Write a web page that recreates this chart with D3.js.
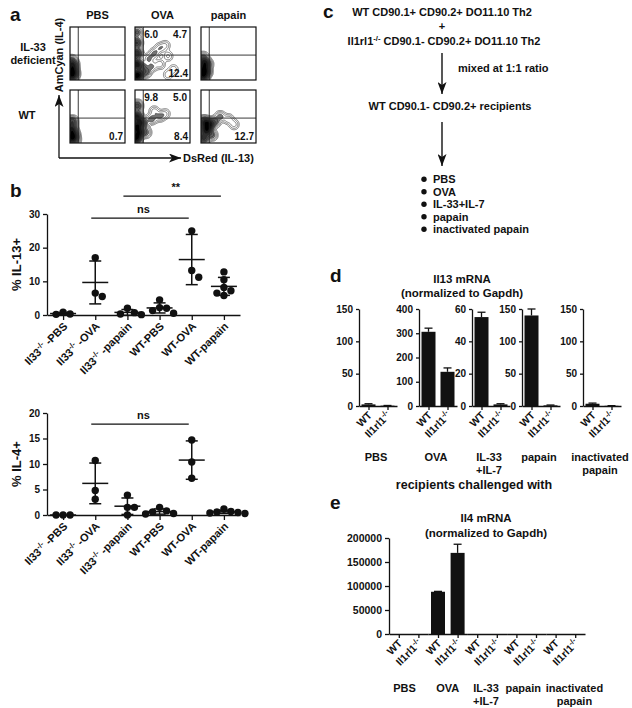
<!DOCTYPE html>
<html>
<head>
<meta charset="utf-8">
<script src="https://cdn.jsdelivr.net/npm/d3@7"></script>
<style>
  body { margin: 0; background: #fff; }
  svg text { font-family: "Liberation Sans", Arial, Helvetica, sans-serif; font-weight: bold; fill: #111; }
</style>
</head>
<body>
<svg id="fig" width="632" height="708"></svg>
<script>
// ---------------- data ----------------

// panel a: flow plots
var flowCols = ["PBS", "OVA", "papain"];
var flowRows = ["IL-33\ndeficient", "WT"];
// quadrant frequencies: [upper-left, upper-right, lower-right]
var flowFreq = [
    [["", "", ""], ["6.0", "4.7", "12.4"], ["", "", ""]],
    [["", "", "0.7"], ["9.8", "5.0", "8.4"], ["", "", "12.7"]]
];
// density centres: [x, y, weight], axes 0..1
var flowSeeds = [
    [
        [[0.03, 0.08, 4], [0.04, 0.18, 4], [0.05, 0.28, 3], [0.03, 0.36, 1.5], [0.08, 0.12, 1.5]],
        [[0.02, 0.08, 6], [0.02, 0.3, 5], [0.03, 0.5, 4], [0.03, 0.7, 3], [0.04, 0.9, 1.5],
         [0.08, 0.1, 3], [0.12, 0.25, 2], [0.2, 0.15, 1.5], [0.25, 0.4, 1], [0.35, 0.5, 1],
         [0.45, 0.6, 0.8], [0.55, 0.65, 0.6], [0.6, 0.45, 0.6], [0.45, 0.3, 0.8],
         [0.7, 0.2, 0.5], [0.3, 0.25, 1], [0.6, 0.1, 0.5]],
        [[0.04, 0.08, 4], [0.05, 0.2, 4], [0.06, 0.32, 3], [0.1, 0.15, 1.5], [0.12, 0.3, 1], [0.04, 0.42, 1.2]]
    ],
    [
        [[0.03, 0.1, 4], [0.03, 0.25, 3.5], [0.04, 0.4, 2], [0.07, 0.15, 2], [0.1, 0.05, 0.8]],
        [[0.02, 0.1, 6], [0.02, 0.3, 5], [0.03, 0.5, 4], [0.04, 0.7, 2], [0.08, 0.2, 3.5],
         [0.1, 0.4, 2.5], [0.15, 0.35, 1.2], [0.3, 0.45, 1], [0.45, 0.5, 0.8], [0.55, 0.55, 0.5],
         [0.35, 0.6, 0.6], [0.2, 0.2, 1]],
        [[0.05, 0.1, 2.5], [0.1, 0.25, 4], [0.14, 0.35, 4], [0.06, 0.4, 2.5], [0.25, 0.4, 1.2],
         [0.35, 0.5, 0.8], [0.5, 0.45, 0.6], [0.6, 0.35, 0.5], [0.2, 0.15, 1]]
    ]
];
// contour levels as fractions of each plot's peak density
var flowLevels = [0.02, 0.04, 0.07, 0.11, 0.17, 0.25, 0.35, 0.5, 0.7];

// panel b: % positive cells per mouse
var bCats = ["Il33-/- -PBS", "Il33-/- -OVA", "Il33-/- -papain", "WT-PBS", "WT-OVA", "WT-papain"];
var il13Pct = [
    [0.8, 0.2, 0.3],
    [17, 5.5, 6.5],
    [0.7, 0.1, 2.0, 0.3],
    [4.5, 2.2, 2.0, 0.5, 1.3],
    [25, 11.2, 13.2],
    [12.8, 10.5, 7.2, 5.8, 6.5, 8.2]
];
var il4Pct = [
    [0, 0, 0],
    [10.7, 3.1, 4.8],
    [3.9, 1.5, 1.5, 0],
    [1.5, 0.3, 0.6, 0.2, 0.8],
    [14.7, 10.4, 7.2],
    [1.2, 0.5, 0.3, 0.6, 0.4, 0.7]
];
var il13Ticks = [0, 10, 20, 30];
var il4Ticks = [0, 5, 10, 15, 20];
// significance bars: categories joined, label, height in data units
var il13Sig = [{from: 1, to: 4, label: "ns", at: 28.8}, {from: 2, to: 5, label: "**", at: 35.3}];
var il4Sig = [{from: 1, to: 4, label: "ns", at: 17.8}];

// panels d and e: qPCR
var qGroups = ["PBS", "OVA", "IL-33\n+IL-7", "papain", "inactivated\npapain"];
var genotypes = ["WT", "Il1rl1-/-"];
var il13Max = [150, 400, 60, 150, 150];
var il13QTicks = [[0, 50, 100, 150], [0, 100, 200, 300, 400], [0, 20, 40, 60], [0, 50, 100, 150], [0, 50, 100, 150]];
var il13WT = [2.5, 306, 55, 140, 3.5];
var il13WTerr = [1, 15, 3, 10, 1];
var il13KO = [0.5, 141, 1, 1, 0.3];
var il13KOerr = [0.3, 16, 0.4, 0.5, 0.2];
var il4Ticks2 = [0, 50000, 100000, 150000, 200000];
var il4WT = [0, 88000, 0, 0, 0];
var il4WTerr = [0, 800, 0, 0, 0];
var il4KO = [0, 169000, 0, 0, 0];
var il4KOerr = [0, 18000, 0, 0, 0];

// panel c: protocol
var cSteps = ["WT CD90.1+ CD90.2+ DO11.10 Th2", "+", "Il1rl1-/- CD90.1- CD90.2+ DO11.10 Th2"];
var cRecipients = "WT CD90.1- CD90.2+ recipients";
var cChallenges = ["PBS", "OVA", "IL-33+IL-7", "papain", "inactivated papain"];

// ---------------- drawing ----------------

var svg = d3.select("#fig");
svg.append("rect").attr("width", 632).attr("height", 708).attr("fill", "#fff");

var defs = svg.append("defs");
defs.append("marker").attr("id", "arrow")
    .attr("viewBox", "0 0 12 9").attr("refX", 12).attr("refY", 4.5)
    .attr("markerUnits", "userSpaceOnUse").attr("markerWidth", 13).attr("markerHeight", 9)
    .attr("orient", "auto")
    .append("path").attr("d", "M0,0 L12,4.5 L0,9 L3,4.5 Z").attr("fill", "#111");

// text with a "-/-" superscript
function richText(sel, str, size) {
    var parts = str.split("-/-");
    sel.append("tspan").text(parts[0]);
    if (parts.length > 1) {
        sel.append("tspan").attr("dy", -size * 0.4).attr("font-size", size * 0.7).text("-/-");
        sel.append("tspan").attr("dy", size * 0.4).text(parts[1]);
    }
}

// multi-line centred text
function lines(x, y, str, size, lh) {
    var t = svg.append("text").attr("x", x).attr("y", y)
        .attr("text-anchor", "middle").attr("font-size", size);
    str.split("\n").forEach(function(s, i) {
        t.append("tspan").attr("x", x).attr("dy", i ? lh : 0).text(s);
    });
    return t;
}

function panelLetter(s, x, y) {
    svg.append("text").attr("x", x).attr("y", y).attr("font-size", 19).text(s);
}

function styleAxis(g, size) {
    g.attr("font-size", size);
    g.selectAll("path, line").attr("stroke", "#111").attr("stroke-width", 1.3);
    g.selectAll("text").attr("fill", "#111");
}

// ---- panel a ----
panelLetter("a", 10, 21);

var boxW = 55, boxH = 53;
var boxX = [70, 135, 201], boxY = [27, 90];
var gateX = 0.15, gateY = 0.47;

flowCols.forEach(function(c, i) {
    svg.append("text").attr("x", boxX[i] + boxW / 2).attr("y", 19)
        .attr("text-anchor", "middle").attr("font-size", 11).text(c);
});
lines(33, 51, flowRows[0], 11, 13);
lines(27, 119, flowRows[1], 11, 13);

flowRows.forEach(function(row, r) {
    flowCols.forEach(function(col, c) {
        var g = svg.append("g").attr("transform", "translate(" + boxX[c] + "," + boxY[r] + ")");
        var fx = d3.scaleLinear().domain([0, 1]).range([0, boxW]);
        var fy = d3.scaleLinear().domain([0, 1]).range([boxH, 0]);

        var clipId = "clip" + r + c;
        defs.append("clipPath").attr("id", clipId)
            .append("rect").attr("width", boxW).attr("height", boxH);

        // cellSize 1 keeps the grid unscaled, so levels can be taken from its max
        var contours = d3.contourDensity()
            .x(function(d) { return fx(d[0]); })
            .y(function(d) { return fy(d[1]); })
            .weight(function(d) { return d[2]; })
            .size([boxW, boxH]).cellSize(1).bandwidth(2.8)
            .thresholds(function(values) {
                var mx = d3.max(values);
                return flowLevels.map(function(f) { return f * mx; });
            })
            (flowSeeds[r][c]);

        var n = contours.length;
        g.append("g").attr("clip-path", "url(#" + clipId + ")")
            .selectAll("path").data(contours).enter().append("path")
            .attr("d", d3.geoPath())
            .attr("fill", function(d, i) {
                return i < 3 ? "none" : d3.interpolateGreys(0.62 + 0.38 * (i - 3) / (n - 4));
            })
            .attr("stroke", "#222").attr("stroke-width", 0.55);

        g.append("line").attr("x1", fx(gateX)).attr("x2", fx(gateX))
            .attr("y1", 0).attr("y2", boxH).attr("stroke", "#222").attr("stroke-width", 0.9);
        g.append("line").attr("x1", 0).attr("x2", boxW)
            .attr("y1", fy(gateY)).attr("y2", fy(gateY)).attr("stroke", "#222").attr("stroke-width", 0.9);
        g.append("rect").attr("width", boxW).attr("height", boxH)
            .attr("fill", "none").attr("stroke", "#111").attr("stroke-width", 1.2);

        var f = flowFreq[r][c];
        g.append("text").attr("x", fx(gateX) + 1).attr("y", 11).attr("font-size", 10).text(f[0]);
        g.append("text").attr("x", boxW - 3).attr("y", 11).attr("font-size", 10)
            .attr("text-anchor", "end").text(f[1]);
        g.append("text").attr("x", boxW - 2).attr("y", boxH - 3).attr("font-size", 10)
            .attr("text-anchor", "end").text(f[2]);
    });
});

// flow axes
svg.append("path").attr("d", "M59,158 L59,95").attr("stroke", "#111")
    .attr("stroke-width", 1.3).attr("fill", "none").attr("marker-end", "url(#arrow)");
svg.append("path").attr("d", "M59,158 L181,158").attr("stroke", "#111")
    .attr("stroke-width", 1.3).attr("fill", "none").attr("marker-end", "url(#arrow)");
svg.append("text").attr("transform", "translate(63,55) rotate(-90)")
    .attr("text-anchor", "middle").attr("font-size", 11).text("AmCyan (IL-4)");
svg.append("text").attr("x", 183).attr("y", 162).attr("font-size", 11).text("DsRed (IL-13)");

// ---- panel b ----
panelLetter("b", 10, 197);

function dotPlot(values, ticks, yRange, yLabel, sigs) {
    var x = d3.scalePoint().domain(bCats).range([47, 240]).padding(0.5);
    var y = d3.scaleLinear().domain([0, d3.max(ticks)]).range(yRange);
    var y0 = yRange[0];
    var g = svg.append("g");

    var ya = g.append("g").attr("transform", "translate(47,0)")
        .call(d3.axisLeft(y).tickValues(ticks).tickSize(4).tickSizeOuter(0));
    styleAxis(ya, 10);
    ya.selectAll("text").attr("x", -7);

    var xa = g.append("g").attr("transform", "translate(0," + y0 + ")")
        .call(d3.axisBottom(x).tickSize(5).tickSizeOuter(0).tickFormat(""));
    styleAxis(xa, 10);

    g.append("text").attr("transform", "translate(21," + (y(d3.max(ticks) / 2)) + ") rotate(-90)")
        .attr("text-anchor", "middle").attr("font-size", 13).text(yLabel);

    var r = 3.7;
    bCats.forEach(function(cat, i) {
        var vals = values[i].slice().sort(d3.descending);
        var placed = [];
        var offsets = [0, 7, -7, 14, -14, 21, -21];
        vals.forEach(function(v) {
            var py = y(v);
            var ox = offsets.find(function(o) {
                return placed.every(function(p) {
                    return Math.hypot(p[0] - o, p[1] - py) >= 2 * r - 0.5;
                });
            });
            placed.push([ox, py]);
        });
        g.selectAll(null).data(placed).enter().append("circle")
            .attr("cx", function(d) { return x(cat) + d[0]; })
            .attr("cy", function(d) { return d[1]; })
            .attr("r", r).attr("fill", "#111");

        var m = d3.mean(values[i]), sd = d3.deviation(values[i]) || 0;
        var cx = x(cat);
        g.append("line").attr("x1", cx - 13).attr("x2", cx + 13).attr("y1", y(m)).attr("y2", y(m))
            .attr("stroke", "#111").attr("stroke-width", 1.5);
        if (sd > 0) {
            g.append("line").attr("x1", cx).attr("x2", cx).attr("y1", y(m - sd)).attr("y2", y(m + sd))
                .attr("stroke", "#111").attr("stroke-width", 1.5);
            [m - sd, m + sd].forEach(function(v) {
                g.append("line").attr("x1", cx - 6).attr("x2", cx + 6).attr("y1", y(v)).attr("y2", y(v))
                    .attr("stroke", "#111").attr("stroke-width", 1.5);
            });
        }

        var t = g.append("text").attr("text-anchor", "end").attr("font-size", 11)
            .attr("transform", "translate(" + (cx + 5) + "," + (y0 + 12) + ") rotate(-45)");
        richText(t, cat, 11);
    });

    sigs.forEach(function(s) {
        var sy = y(s.at);
        g.append("line").attr("x1", x(bCats[s.from]) - 4).attr("x2", x(bCats[s.to]) - 3)
            .attr("y1", sy).attr("y2", sy).attr("stroke", "#111").attr("stroke-width", 1.3);
        g.append("text").attr("x", (x(bCats[s.from]) + x(bCats[s.to])) / 2)
            .attr("y", sy - 5).attr("text-anchor", "middle").attr("font-size", 11).text(s.label);
    });
}

dotPlot(il13Pct, il13Ticks, [315, 214], "% IL-13+", il13Sig);
dotPlot(il4Pct, il4Ticks, [515, 413], "% IL-4+", il4Sig);

// ---- panel c ----
panelLetter("c", 323, 18);
var cx0 = 442;
svg.append("text").attr("x", cx0).attr("y", 16).attr("text-anchor", "middle")
    .attr("font-size", 11).text(cSteps[0]);
svg.append("text").attr("x", cx0).attr("y", 30).attr("text-anchor", "middle")
    .attr("font-size", 11).text(cSteps[1]);
var ct = svg.append("text").attr("x", cx0 + 2).attr("y", 45).attr("text-anchor", "middle")
    .attr("font-size", 11);
richText(ct, cSteps[2], 11);

[[53, 94], [122, 166]].forEach(function(a) {
    svg.append("path").attr("d", "M" + cx0 + "," + a[0] + " L" + cx0 + "," + a[1])
        .attr("stroke", "#111").attr("stroke-width", 1.4).attr("marker-end", "url(#arrow)");
});
svg.append("text").attr("x", 458).attr("y", 72).attr("font-size", 11).text("mixed at 1:1 ratio");
svg.append("text").attr("x", 450).attr("y", 110).attr("text-anchor", "middle")
    .attr("font-size", 11).text(cRecipients);

cChallenges.forEach(function(s, i) {
    var yy = 183 + i * 12.5;
    svg.append("circle").attr("cx", 424).attr("cy", yy - 3.8).attr("r", 2.7).attr("fill", "#111");
    svg.append("text").attr("x", 433).attr("y", yy).attr("font-size", 11).text(s);
});

// ---- panel d ----
panelLetter("d", 330, 282);
lines(462, 283, "Il13 mRNA\n(normalized to Gapdh)", 11.5, 14);

function barPair(x0, w, y, wt, wtErr, ko, koErr, labelSize) {
    var x = d3.scalePoint().domain(genotypes).range([x0, x0 + w]).padding(0.5);
    var y0 = y.range()[0];
    [[genotypes[0], wt, wtErr], [genotypes[1], ko, koErr]].forEach(function(b) {
        var bx = x(b[0]);
        if (b[1] > 0) {
            svg.append("rect").attr("x", bx - 7).attr("width", 14)
                .attr("y", y(b[1])).attr("height", y0 - y(b[1])).attr("fill", "#111");
        }
        if (b[2] > 0) {
            svg.append("line").attr("x1", bx).attr("x2", bx).attr("y1", y(b[1])).attr("y2", y(b[1] + b[2]))
                .attr("stroke", "#111").attr("stroke-width", 1.3);
            svg.append("line").attr("x1", bx - 4).attr("x2", bx + 4)
                .attr("y1", y(b[1] + b[2])).attr("y2", y(b[1] + b[2]))
                .attr("stroke", "#111").attr("stroke-width", 1.3);
        }
        var t = svg.append("text").attr("text-anchor", "end").attr("font-size", labelSize)
            .attr("transform", "translate(" + (bx + 4) + "," + (y0 + 10) + ") rotate(-45)");
        richText(t, b[0], labelSize);
    });
    var xa = svg.append("g").attr("transform", "translate(0," + y0 + ")")
        .call(d3.axisBottom(x).tickSize(4).tickSizeOuter(0).tickFormat(""));
    styleAxis(xa, 10);
    return x;
}

var dAxisX = [359, 419, 472, 522, 583];
qGroups.forEach(function(grp, i) {
    var y = d3.scaleLinear().domain([0, il13Max[i]]).range([406, 309]);
    var ya = svg.append("g").attr("transform", "translate(" + dAxisX[i] + ",0)")
        .call(d3.axisLeft(y).tickValues(il13QTicks[i]).tickSize(3).tickSizeOuter(0));
    styleAxis(ya, 10);
    barPair(dAxisX[i], 38, y, il13WT[i], il13WTerr[i], il13KO[i], il13KOerr[i], 10.5);
    lines(dAxisX[i] + 17, 461, grp, 11, 13);
});
svg.append("text").attr("x", 474).attr("y", 489).attr("text-anchor", "middle")
    .attr("font-size", 12.5).text("recipients challenged with");

// ---- panel e ----
panelLetter("e", 330, 509);
lines(486, 522, "Il4 mRNA\n(normalized to Gapdh)", 11.5, 15);

var ey = d3.scaleLinear().domain([0, 200000]).range([634, 538]);
var eya = svg.append("g").attr("transform", "translate(389,0)")
    .call(d3.axisLeft(ey).tickValues(il4Ticks2).tickFormat(d3.format("d")).tickSize(4).tickSizeOuter(0));
styleAxis(eya, 10.5);

var eStep = (585 - 389) / qGroups.length;
var eLabelDx = [-4, 0, -1, -3, 9];
qGroups.forEach(function(grp, i) {
    barPair(389 + i * eStep, eStep, ey, il4WT[i], il4WTerr[i], il4KO[i], il4KOerr[i], 10.5);
    lines(389 + (i + 0.5) * eStep + eLabelDx[i], 692, grp, 11, 13);
});
</script>
</body>
</html>
